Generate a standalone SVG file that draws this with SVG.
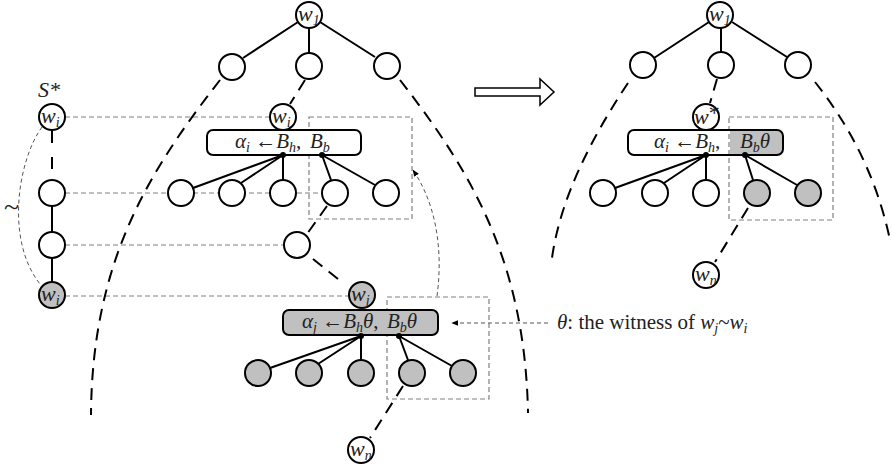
<svg xmlns="http://www.w3.org/2000/svg" width="893" height="472" viewBox="0 0 893 472">
<style>
.n{fill:#fff;stroke:#000;stroke-width:2}
.g{fill:#c0c0c0;stroke:#000;stroke-width:2}
.e{stroke:#000;stroke-width:2;fill:none}
.d{stroke:#000;stroke-width:2;stroke-dasharray:12,8;fill:none}
.h{stroke:#808080;stroke-width:1.2;stroke-dasharray:5,3;fill:none}
.a{stroke:#555;stroke-width:1;stroke-dasharray:4,3;fill:none}
.t{font-family:"Liberation Serif","Times New Roman",serif;font-size:21px;fill:#222}
.w{font-size:22px}
.i{font-style:italic}
.s{font-size:14px;font-style:italic}
</style>
<defs>
<marker id="ah" viewBox="0 0 10 10" refX="9" refY="5" markerWidth="7" markerHeight="7" orient="auto-start-reverse"><path d="M0,1 L10,5 L0,9 z" fill="#000"/></marker>
</defs>

<g id="guides">
<path class="h" d="M65,117 H270 M65,193 H322 M65,245 H284 M65,296 H349"/>
<rect class="h" x="309" y="117" width="103" height="102"/>
<rect class="h" x="387" y="297" width="102" height="102"/>
<rect class="h" x="729" y="117" width="104" height="103"/>
<path class="a" d="M42,127 C18,160 5,240 40,284"/>
</g>

<g id="connectors">
<path class="e" d="M298,22 L243,58 M309,28 V53 M320,22 L375,57"/>
<path class="e" d="M283,155 L193,188 M283,155 L241,183 M283,155 V180 M322,155 L331,180 M322,155 L375,185"/>
<path class="e" d="M361,336 L270,368 M361,336 L318,364 M361,336 V360 M399,336 L408,360 M399,336 L452,366"/>
<path class="e" d="M52,206 V232 M52,258 V282"/>
<path class="d" d="M52,131 V180" style="stroke-dasharray:12,14"/>
<path class="d" d="M305,80 L290,104"/>
<path class="d" d="M327,206 L307,234"/>
<path class="d" d="M313,259 L343,283"/>
<path class="d" d="M403,386 L370,438"/>
<path class="d" d="M220,80 C150,170 92,260 91,415"/>
<path class="d" d="M400,80 C470,170 525,260 528,413"/>
<path class="e" d="M709,22 L654,58 M721,28 V52 M732,22 L787,57"/>
<path class="e" d="M706,155 L615,188 M706,155 L664,183 M706,155 V180 M745,155 L753,180 M745,155 L797,185"/>
<path class="d" d="M717,79 L710,103"/>
<path class="d" d="M748,208 L715,262"/>
<path class="d" d="M628,83 C590,140 560,200 552,258"/>
<path class="d" d="M815,82 C845,120 875,170 890,240"/>
<path class="a" d="M437,296 C442,260 440,210 413,170" marker-end="url(#ah)"/>
<path class="a" d="M548,323 H452" marker-end="url(#ah)"/>
<polygon points="475,88 540,88 540,79 554,92 540,105 540,96 475,96" fill="#fff" stroke="#000" stroke-width="1.5"/>
</g>

<text class="t i w" x="38" y="97">S*</text>
<text class="t" x="4" y="216" style="font-size:28px">~</text>

<g id="L_w1"><circle class="n" cx="309" cy="15" r="13"/><text class="t w" x="298" y="21"><tspan class="i">w</tspan><tspan class="s" dy="4">1</tspan></text></g>
<g id="L_a"><circle class="n" cx="232" cy="67" r="13"/></g>
<g id="L_b"><circle class="n" cx="309" cy="66" r="13"/></g>
<g id="L_c"><circle class="n" cx="387" cy="66" r="13"/></g>
<g id="L_wi"><circle class="n" cx="283" cy="117" r="13"/><text class="t w" x="272" y="123"><tspan class="i">w</tspan><tspan class="s" dy="4">i</tspan></text></g>
<g id="L_box1"><rect class="n" x="207" y="130" width="154" height="25" rx="6"/>
<text class="t" x="235" y="148"><tspan class="i">α</tspan><tspan class="s" dy="4">i</tspan><tspan dy="-4"> ←</tspan><tspan class="i">B</tspan><tspan class="s" dy="4">h</tspan><tspan dy="-4">,</tspan></text>
<text class="t" x="310" y="148"><tspan class="i">B</tspan><tspan class="s" dy="4">b</tspan></text>
<circle cx="283" cy="155" r="3"/><circle cx="322" cy="155" r="3"/></g>
<g id="L_c1"><circle class="n" cx="181" cy="193" r="13"/></g>
<g id="L_c2"><circle class="n" cx="232" cy="193" r="13"/></g>
<g id="L_c3"><circle class="n" cx="283" cy="193" r="13"/></g>
<g id="L_c4"><circle class="n" cx="335" cy="193" r="13"/></g>
<g id="L_c5"><circle class="n" cx="386" cy="193" r="13"/></g>
<g id="L_m"><circle class="n" cx="297" cy="245" r="13"/></g>
<g id="L_wj"><circle class="g" cx="362" cy="295" r="13"/><text class="t w" x="351" y="301"><tspan class="i">w</tspan><tspan class="s" dy="4">j</tspan></text></g>
<g id="L_box2"><rect class="g" x="283" y="310" width="155" height="25" rx="6"/>
<text class="t" x="302" y="328"><tspan class="i">α</tspan><tspan class="s" dy="4">j</tspan><tspan dy="-4"> ←</tspan><tspan class="i">B</tspan><tspan class="s" dy="4">h</tspan><tspan class="i" dy="-4">θ</tspan><tspan>,</tspan></text>
<text class="t" x="387" y="328"><tspan class="i">B</tspan><tspan class="s" dy="4">b</tspan><tspan class="i" dy="-4">θ</tspan></text>
<circle cx="361" cy="336" r="3"/><circle cx="399" cy="336" r="3"/></g>
<g id="L_g1"><circle class="g" cx="258" cy="373" r="13"/></g>
<g id="L_g2"><circle class="g" cx="309" cy="373" r="13"/></g>
<g id="L_g3"><circle class="g" cx="361" cy="373" r="13"/></g>
<g id="L_g4"><circle class="g" cx="412" cy="373" r="13"/></g>
<g id="L_g5"><circle class="g" cx="463" cy="373" r="13"/></g>
<g id="L_wn"><circle class="n" cx="361" cy="450" r="13"/><text class="t w" x="350" y="456"><tspan class="i">w</tspan><tspan class="s" dy="4">n</tspan></text></g>

<g id="S_wi"><circle class="n" cx="52" cy="117" r="13"/><text class="t w" x="41" y="123"><tspan class="i">w</tspan><tspan class="s" dy="4">i</tspan></text></g>
<g id="S_1"><circle class="n" cx="52" cy="193" r="13"/></g>
<g id="S_2"><circle class="n" cx="52" cy="245" r="13"/></g>
<g id="S_wj"><circle class="g" cx="52" cy="295" r="13"/><text class="t w" x="41" y="301"><tspan class="i">w</tspan><tspan class="s" dy="4">i</tspan></text></g>

<g id="label"><text class="t" x="557" y="329"><tspan class="i">θ</tspan>: the witness of <tspan class="i">w</tspan><tspan class="s" dy="4">j</tspan><tspan dy="-4">~</tspan><tspan class="i">w</tspan><tspan class="s" dy="4">i</tspan></text></g>

<g id="R_w1"><circle class="n" cx="720" cy="15" r="13"/><text class="t w" x="709" y="21"><tspan class="i">w</tspan><tspan class="s" dy="4">1</tspan></text></g>
<g id="R_a"><circle class="n" cx="643" cy="65" r="13"/></g>
<g id="R_b"><circle class="n" cx="721" cy="65" r="13"/></g>
<g id="R_c"><circle class="n" cx="798" cy="65" r="13"/></g>
<g id="R_ws"><circle class="n" cx="706" cy="117" r="13"/><text class="t w" x="694" y="124"><tspan class="i">w</tspan><tspan dy="-4">*</tspan></text></g>
<g id="R_box"><rect x="730" y="131" width="52" height="23" fill="#c0c0c0"/><rect x="628" y="130" width="155" height="25" rx="6" fill="none" stroke="#000" stroke-width="2"/>
<text class="t" x="654" y="148"><tspan class="i">α</tspan><tspan class="s" dy="4">i</tspan><tspan dy="-4"> ←</tspan><tspan class="i">B</tspan><tspan class="s" dy="4">h</tspan><tspan dy="-4">,</tspan></text>
<text class="t" x="740" y="148"><tspan class="i">B</tspan><tspan class="s" dy="4">b</tspan><tspan class="i" dy="-4">θ</tspan></text>
<circle cx="706" cy="155" r="3"/><circle cx="745" cy="155" r="3"/></g>
<g id="R_c1"><circle class="n" cx="603" cy="193" r="13"/></g>
<g id="R_c2"><circle class="n" cx="655" cy="193" r="13"/></g>
<g id="R_c3"><circle class="n" cx="706" cy="193" r="13"/></g>
<g id="R_c4"><circle class="g" cx="757" cy="193" r="13"/></g>
<g id="R_c5"><circle class="g" cx="808" cy="193" r="13"/></g>
<g id="R_wn"><circle class="n" cx="706" cy="275" r="13"/><text class="t w" x="695" y="281"><tspan class="i">w</tspan><tspan class="s" dy="4">n</tspan></text></g>
</svg>
